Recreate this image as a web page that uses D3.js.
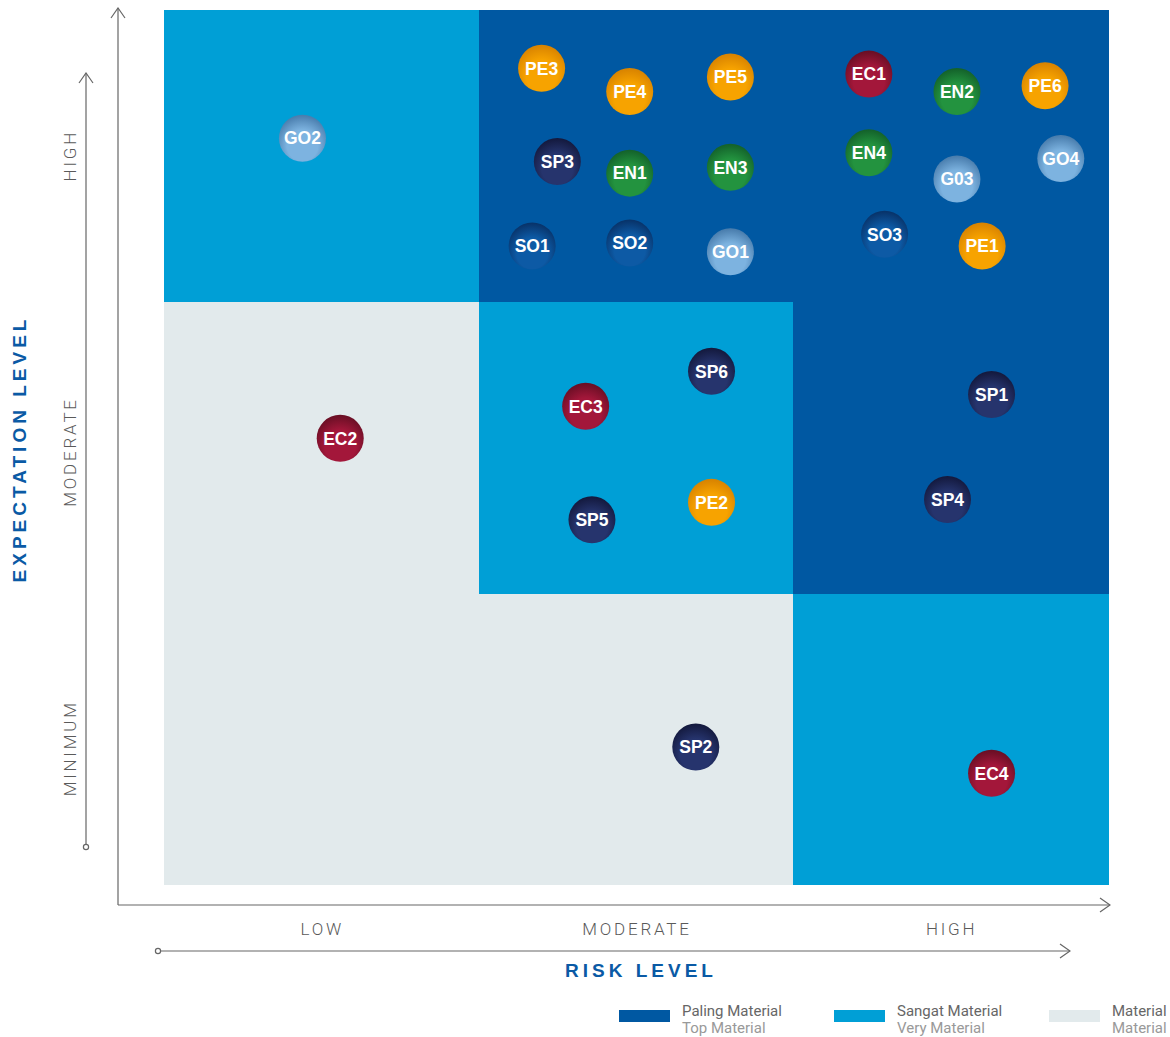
<!DOCTYPE html>
<html>
<head>
<meta charset="utf-8">
<style>
body { margin: 0; background: #fff; }
.lvl { font-family: Roboto, "Liberation Sans", sans-serif; font-size: 17px; fill: #5a5a5a; letter-spacing: 2.8px; font-weight: 300; }
.ttl { font-family: "Liberation Sans", Arial, sans-serif; font-size: 19px; font-weight: bold; fill: #0a5aa5; letter-spacing: 4px; }
.bub { font-family: "Liberation Sans", Arial, sans-serif; font-size: 17.5px; font-weight: bold; fill: #fff; }
.leg1 { font-family: Roboto, "Liberation Sans", sans-serif; font-size: 15px; fill: #666; }
.leg2 { font-family: Roboto, "Liberation Sans", sans-serif; font-size: 15px; fill: #999; }
</style>
</head>
<body>
<svg width="1170" height="1037"></svg>
<script src="https://cdn.jsdelivr.net/npm/d3@7/dist/d3.min.js"></script>
<script>

var svg = d3.select("svg");

// axis categories
var riskLevels = ["LOW", "MODERATE", "HIGH"];
var expectLevels = ["MINIMUM", "MODERATE", "HIGH"];

// materiality of each cell, rows = expectation (MINIMUM..HIGH), cols = risk (LOW..HIGH)
// 0 = Material, 1 = Sangat Material, 2 = Paling Material
var cellGrid = [
  [0, 0, 1],
  [0, 1, 2],
  [1, 2, 2]
];

// issues: code, risk position, expectation position (0..3)
var codes =   ["PE3","PE4","PE5","EC1","EN2","PE6","GO2","SP3","EN1","EN3","EN4","G03","GO4","SO1","SO2","GO1","SO3","PE1","SP6","SP1","EC3","EC2","SP4","PE2","SP5","SP2","EC4"];
var riskVal = [1.20, 1.48, 1.80, 2.24, 2.52, 2.80, 0.44, 1.25, 1.48, 1.80, 2.24, 2.52, 2.85, 1.17, 1.48, 1.80, 2.29, 2.60, 1.74, 2.63, 1.34, 0.56, 2.49, 1.74, 1.36, 1.69, 2.63];
var expVal =  [2.80, 2.72, 2.77, 2.78, 2.72, 2.74, 2.56, 2.48, 2.44, 2.46, 2.51, 2.42, 2.49, 2.19, 2.20, 2.17, 2.23, 2.19, 1.76, 1.68, 1.64, 1.53, 1.32, 1.31, 1.25, 0.47, 0.38];

// legend
var legendMain = ["Paling Material", "Sangat Material", "Material"];
var legendSub = ["Top Material", "Very Material", "Material"];

var cellColors = ["#e2eaec", "#009fd6", "#0058a2"];

// bubble colour groups: [edge, centre]
var groupColors = {
  PE: ["#d98400", "#f7a300"],
  EN: ["#14632b", "#23933f"],
  EC: ["#6b0f25", "#a3173a"],
  SP: ["#141a3f", "#26346d"],
  SO: ["#08346b", "#0d5aa5"],
  GO: ["#4a7eae", "#7db3e0"]
};
function group(c) { return c.slice(0, 2) == "G0" ? "GO" : c.slice(0, 2); }

var x = d3.scaleLinear().domain([0, 3]).range([164, 1108]);
var y = d3.scaleLinear().domain([0, 3]).range([884, 10]);
var xb = d3.scaleBand().domain(riskLevels).range([164, 1108]);
var yb = d3.scaleBand().domain(expectLevels).range([884, 10]);

var defs = svg.append("defs");
Object.keys(groupColors).forEach(function(k) {
  var g = defs.append("radialGradient").attr("id", "g-" + k)
    .attr("cx", "50%").attr("cy", "62%").attr("r", "60%").attr("fx", "50%").attr("fy", "70%");
  g.append("stop").attr("offset", "0%").attr("stop-color", groupColors[k][1]);
  g.append("stop").attr("offset", "55%").attr("stop-color", groupColors[k][1]);
  g.append("stop").attr("offset", "100%").attr("stop-color", groupColors[k][0]);
});
var mk = defs.append("marker").attr("id", "arr").attr("viewBox", "0 0 12 16")
  .attr("refX", 11).attr("refY", 8).attr("markerWidth", 12).attr("markerHeight", 16)
  .attr("markerUnits", "userSpaceOnUse").attr("orient", "auto");
mk.append("path").attr("d", "M1,1L11,8L1,15").attr("fill", "none").attr("stroke", "#666").attr("stroke-width", 1.2);

// cells
var cells = [];
cellGrid.forEach(function(row, r) {
  row.forEach(function(v, c) { cells.push({ r: expectLevels[r], c: riskLevels[c], v: v }); });
});
svg.append("g").attr("shape-rendering", "crispEdges")
  .selectAll("rect").data(cells).enter().append("rect")
  .attr("x", function(d) { return Math.round(xb(d.c)); })
  .attr("y", function(d) { return Math.round(yb(d.r)); })
  .attr("width", function(d) { return Math.round(xb(d.c) + xb.bandwidth()) - Math.round(xb(d.c)) + 1; })
  .attr("height", function(d) { return Math.round(yb(d.r) + yb.bandwidth()) - Math.round(yb(d.r)) + 1; })
  .attr("fill", function(d) { return cellColors[d.v]; });

// axes lines
var ax = svg.append("g").attr("stroke", "#666").attr("stroke-width", 1.2).attr("fill", "none");
ax.append("path").attr("d", "M118,905V8").attr("marker-end", "url(#arr)");
ax.append("path").attr("d", "M118,905H1110").attr("marker-end", "url(#arr)");
ax.append("path").attr("d", "M86,844V73").attr("marker-end", "url(#arr)");
ax.append("circle").attr("cx", 86).attr("cy", 847).attr("r", 2.6).attr("fill", "#fff");
ax.append("path").attr("d", "M161,951H1070").attr("marker-end", "url(#arr)");
ax.append("circle").attr("cx", 158).attr("cy", 951).attr("r", 2.6).attr("fill", "#fff");

// level labels
svg.append("g").selectAll("text").data(riskLevels).enter().append("text")
  .attr("class", "lvl").attr("text-anchor", "middle")
  .attr("x", function(d) { return xb(d) + xb.bandwidth() / 2 + 1; })
  .attr("y", 935).text(function(d) { return d; });
svg.append("g").selectAll("text").data(expectLevels).enter().append("text")
  .attr("class", "lvl").attr("text-anchor", "middle")
  .attr("transform", function(d, i) {
    return "translate(76," + (yb(d) + yb.bandwidth() / 2 + [10, 5, 0][i]) + ") rotate(-90)";
  })
  .text(function(d) { return d; });

svg.append("text").attr("class", "ttl").attr("text-anchor", "middle")
  .attr("x", 641).attr("y", 977).text("RISK LEVEL");
svg.append("text").attr("class", "ttl").attr("text-anchor", "middle")
  .attr("transform", "translate(26,449) rotate(-90)").text("EXPECTATION LEVEL");

// bubbles
var issues = codes.map(function(c, i) { return { code: c, rx: riskVal[i], ey: expVal[i] }; });
var b = svg.append("g").selectAll("g").data(issues).enter().append("g")
  .attr("transform", function(d) { return "translate(" + x(d.rx) + "," + y(d.ey) + ")"; });
b.append("circle").attr("r", 23.5)
  .attr("fill", function(d) { return "url(#g-" + group(d.code) + ")"; });
b.append("text").attr("class", "bub").attr("text-anchor", "middle").attr("dy", "0.36em")
  .text(function(d) { return d.code; });

// legend
var lg = svg.append("g").selectAll("g").data(legendMain).enter().append("g")
  .attr("transform", function(d, i) { return "translate(" + (619 + i * 215) + ",1010)"; });
lg.append("rect").attr("width", 51).attr("height", 12)
  .attr("fill", function(d, i) { return cellColors[2 - i]; });
lg.append("text").attr("class", "leg1").attr("x", 63).attr("y", 6).text(function(d) { return d; });
lg.append("text").attr("class", "leg2").attr("x", 63).attr("y", 23).text(function(d, i) { return legendSub[i]; });

</script>
</body>
</html>
